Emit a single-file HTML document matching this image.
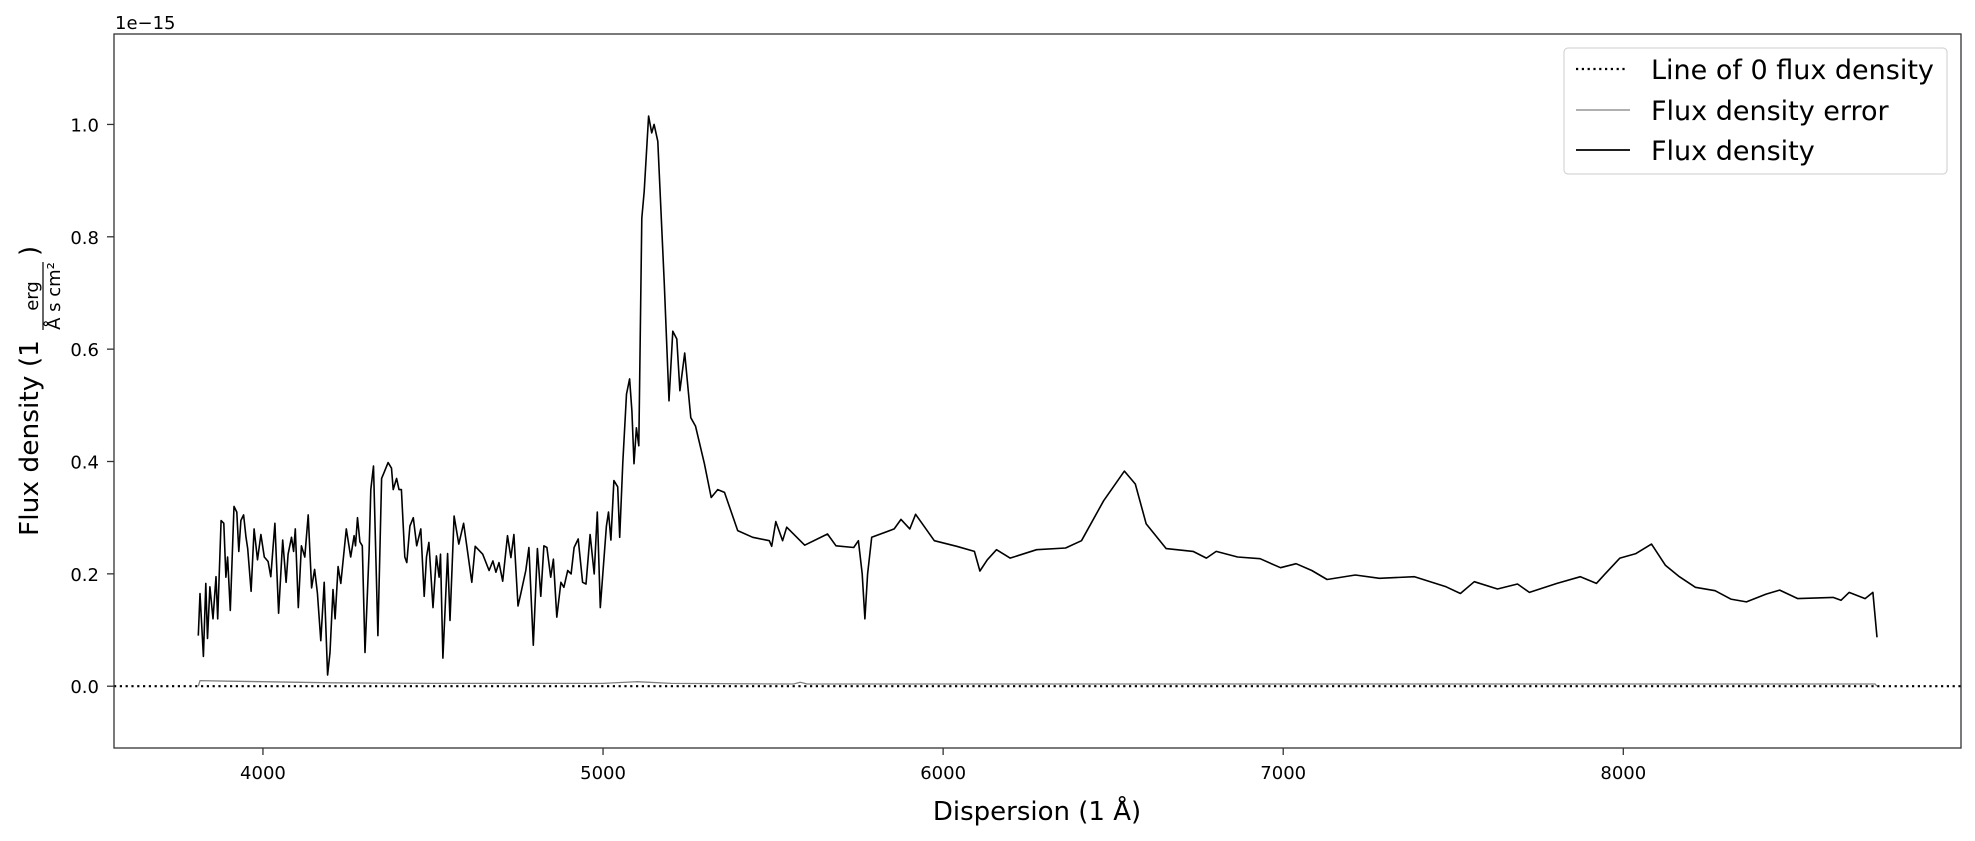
<!DOCTYPE html>
<html><head><meta charset="utf-8"><style>
html,body{margin:0;padding:0;background:#fff;}
svg{display:block;font-family:"DejaVu Sans","Liberation Sans",sans-serif;}
</style></head><body>
<svg id="chart" width="1975" height="841" viewBox="0 0 1975 841" style="position:absolute;left:0;top:0">
</svg>
<script>
const fluxWave=[3810,3815,3825,3832,3837,3844,3853,3862,3867,3877,3885,3891,3896,3904,3915,3923,3929,3935,3943,3950,3955,3965,3974,3984,3994,4004,4015,4023,4035,4046,4058,4068,4074,4084,4090,4095,4104,4113,4123,4133,4143,4152,4160,4170,4180,4190,4197,4206,4212,4221,4229,4245,4258,4268,4272,4278,4285,4292,4300,4312,4317,4325,4338,4349,4356,4368,4378,4383,4393,4400,4407,4417,4423,4432,4442,4452,4464,4474,4481,4488,4500,4510,4518,4522,4529,4543,4550,4562,4576,4590,4600,4614,4624,4646,4665,4676,4685,4694,4705,4719,4729,4738,4750,4758,4773,4782,4795,4807,4817,4826,4835,4846,4854,4864,4876,4885,4896,4906,4915,4927,4940,4950,4962,4974,4983,4992,5010,5016,5023,5032,5043,5049,5058,5069,5078,5085,5091,5098,5105,5114,5121,5134,5143,5150,5161,5180,5194,5205,5217,5226,5240,5258,5272,5298,5318,5337,5357,5396,5440,5489,5496,5508,5528,5540,5593,5660,5685,5737,5751,5762,5770,5778,5790,5856,5876,5902,5919,5974,6040,6092,6108,6130,6157,6197,6275,6360,6407,6472,6533,6565,6597,6656,6735,6774,6803,6866,6932,6992,7038,7084,7129,7212,7283,7386,7479,7521,7562,7630,7689,7724,7805,7874,7921,7945,7990,8037,8083,8124,8165,8212,8270,8316,8362,8420,8460,8513,8617,8640,8664,8711,8734,8746];
const fluxValue=[0.09,0.165,0.053,0.183,0.085,0.177,0.12,0.195,0.12,0.295,0.29,0.194,0.23,0.135,0.32,0.31,0.24,0.295,0.305,0.265,0.245,0.169,0.28,0.225,0.27,0.23,0.222,0.195,0.29,0.13,0.26,0.185,0.235,0.265,0.24,0.28,0.14,0.25,0.23,0.305,0.175,0.208,0.166,0.081,0.185,0.02,0.06,0.172,0.12,0.213,0.183,0.28,0.23,0.268,0.25,0.3,0.257,0.25,0.06,0.24,0.35,0.392,0.09,0.37,0.38,0.398,0.388,0.35,0.37,0.35,0.35,0.23,0.22,0.285,0.3,0.25,0.28,0.16,0.23,0.256,0.14,0.232,0.194,0.235,0.05,0.236,0.117,0.303,0.253,0.29,0.247,0.185,0.249,0.235,0.206,0.223,0.203,0.22,0.187,0.268,0.229,0.27,0.143,0.164,0.206,0.247,0.073,0.245,0.16,0.25,0.247,0.194,0.226,0.123,0.185,0.176,0.206,0.2,0.247,0.262,0.185,0.182,0.27,0.2,0.31,0.14,0.285,0.31,0.26,0.366,0.355,0.265,0.398,0.52,0.547,0.49,0.396,0.46,0.428,0.833,0.881,1.015,0.985,1.0,0.97,0.716,0.508,0.632,0.618,0.526,0.593,0.478,0.463,0.396,0.336,0.35,0.345,0.277,0.265,0.259,0.249,0.293,0.259,0.283,0.251,0.271,0.25,0.247,0.259,0.2,0.12,0.2,0.265,0.28,0.297,0.28,0.306,0.259,0.249,0.24,0.205,0.225,0.243,0.228,0.243,0.246,0.259,0.33,0.383,0.36,0.289,0.245,0.24,0.228,0.24,0.23,0.227,0.211,0.218,0.206,0.19,0.198,0.192,0.195,0.177,0.165,0.186,0.173,0.182,0.167,0.183,0.195,0.183,0.199,0.228,0.236,0.253,0.215,0.195,0.176,0.17,0.155,0.15,0.164,0.171,0.156,0.158,0.153,0.167,0.156,0.167,0.087];
const errWave=[3810,3815,3900,4000,4200,4500,5000,5100,5200,5560,5580,5600,6000,7000,8000,8740,8746];
const errValue=[0.0,0.01,0.009,0.008,0.006,0.005,0.005,0.008,0.005,0.004,0.007,0.004,0.004,0.004,0.004,0.004,0.0];
const xTicks=[4000,5000,6000,7000,8000];
const yTicks=[0.0,0.2,0.4,0.6,0.8,1.0];
const yTickLabels=["0.0","0.2","0.4","0.6","0.8","1.0"];

const L=114,R=1961,T=34,B=748;
const X0=3562,X1=8993,Y0=-0.110,Y1=1.161;
const xs=v=>L+(v-X0)/(X1-X0)*(R-L);
const ys=v=>B-(v-Y0)/(Y1-Y0)*(B-T);
const NS="http://www.w3.org/2000/svg";
const svg=document.getElementById('chart');
function mk(tag,attrs,parent){const e=document.createElementNS(NS,tag);for(const k in attrs)e.setAttribute(k,attrs[k]);(parent||svg).appendChild(e);return e;}

const z=mk('line',{x1:L,x2:R,y1:ys(0),y2:ys(0),stroke:'#000','stroke-width':2.2,'stroke-dasharray':'2.2 3.6'});


let d='';errWave.forEach((w,i)=>{d+=(i?'L':'M')+xs(w).toFixed(1)+' '+ys(errValue[i]).toFixed(1);});
const ep=mk('path',{d:d,fill:'none',stroke:'#808080','stroke-width':1.3});


d='';fluxWave.forEach((w,i)=>{d+=(i?'L':'M')+xs(w).toFixed(1)+' '+ys(fluxValue[i]).toFixed(1);});
const fp=mk('path',{d:d,fill:'none',stroke:'#000','stroke-width':1.6,'stroke-linejoin':'round'});



const fr=mk('rect',{x:L,y:T,width:R-L,height:B-T,fill:'none',stroke:'#333','stroke-width':1.3});



xTicks.forEach(t=>{
  const x=xs(t);
  const tl=mk('line',{x1:x,x2:x,y1:B,y2:B+7,stroke:'#333','stroke-width':1.3});
  
  
  const tx=mk('text',{x:x,y:B+31,'text-anchor':'middle','font-size':18});
  tx.textContent=t;
  
  
});
yTicks.forEach((t,i)=>{
  const y=ys(t);
  const tl=mk('line',{x1:L-7,x2:L,y1:y,y2:y,stroke:'#333','stroke-width':1.3});
  
  
  const tx=mk('text',{x:L-15,y:y+7,'text-anchor':'end','font-size':18});
  tx.textContent=yTickLabels[i];
  
  
});
</script>
<svg style="position:absolute;left:0;top:0" width="1975" height="841">
<text x="115" y="29" font-size="18" font-family="DejaVu Sans, sans-serif">1e−15</text>
<text x="1037" y="820" font-size="26" text-anchor="middle" font-family="DejaVu Sans, sans-serif">Dispersion (1 Å)</text>
<g transform="translate(38,536) rotate(-90)" font-family="DejaVu Sans, sans-serif">
<text x="0" y="0" font-size="26" textLength="196" lengthAdjust="spacingAndGlyphs">Flux density (1</text>
<text x="240" y="0" font-size="18" text-anchor="middle">erg</text>
<line x1="206" x2="274" y1="5" y2="5" stroke="#000" stroke-width="1.2"/>
<text x="240" y="22" font-size="18" text-anchor="middle">Å s cm²</text>
<text x="280" y="0" font-size="26">)</text>
</g>
<g font-family="DejaVu Sans, sans-serif">
<rect x="1564" y="48" width="383" height="126" rx="4" fill="#fff" fill-opacity="0.8" stroke="#ccc" stroke-width="1"/>
<g><line x1="1576" x2="1626" y1="69" y2="69" stroke="#000" stroke-width="2.2" stroke-dasharray="2.2 3.6"/><text x="1651" y="79" font-size="27">Line of 0 flux density</text></g>
<g><line x1="1576" x2="1630" y1="110" y2="110" stroke="#808080" stroke-width="1.3"/><text x="1651" y="120" font-size="27">Flux density error</text></g>
<g><line x1="1576" x2="1630" y1="150" y2="150" stroke="#000" stroke-width="1.8"/><text x="1651" y="160" font-size="27">Flux density</text></g>
</g>
</svg>
</body></html>
